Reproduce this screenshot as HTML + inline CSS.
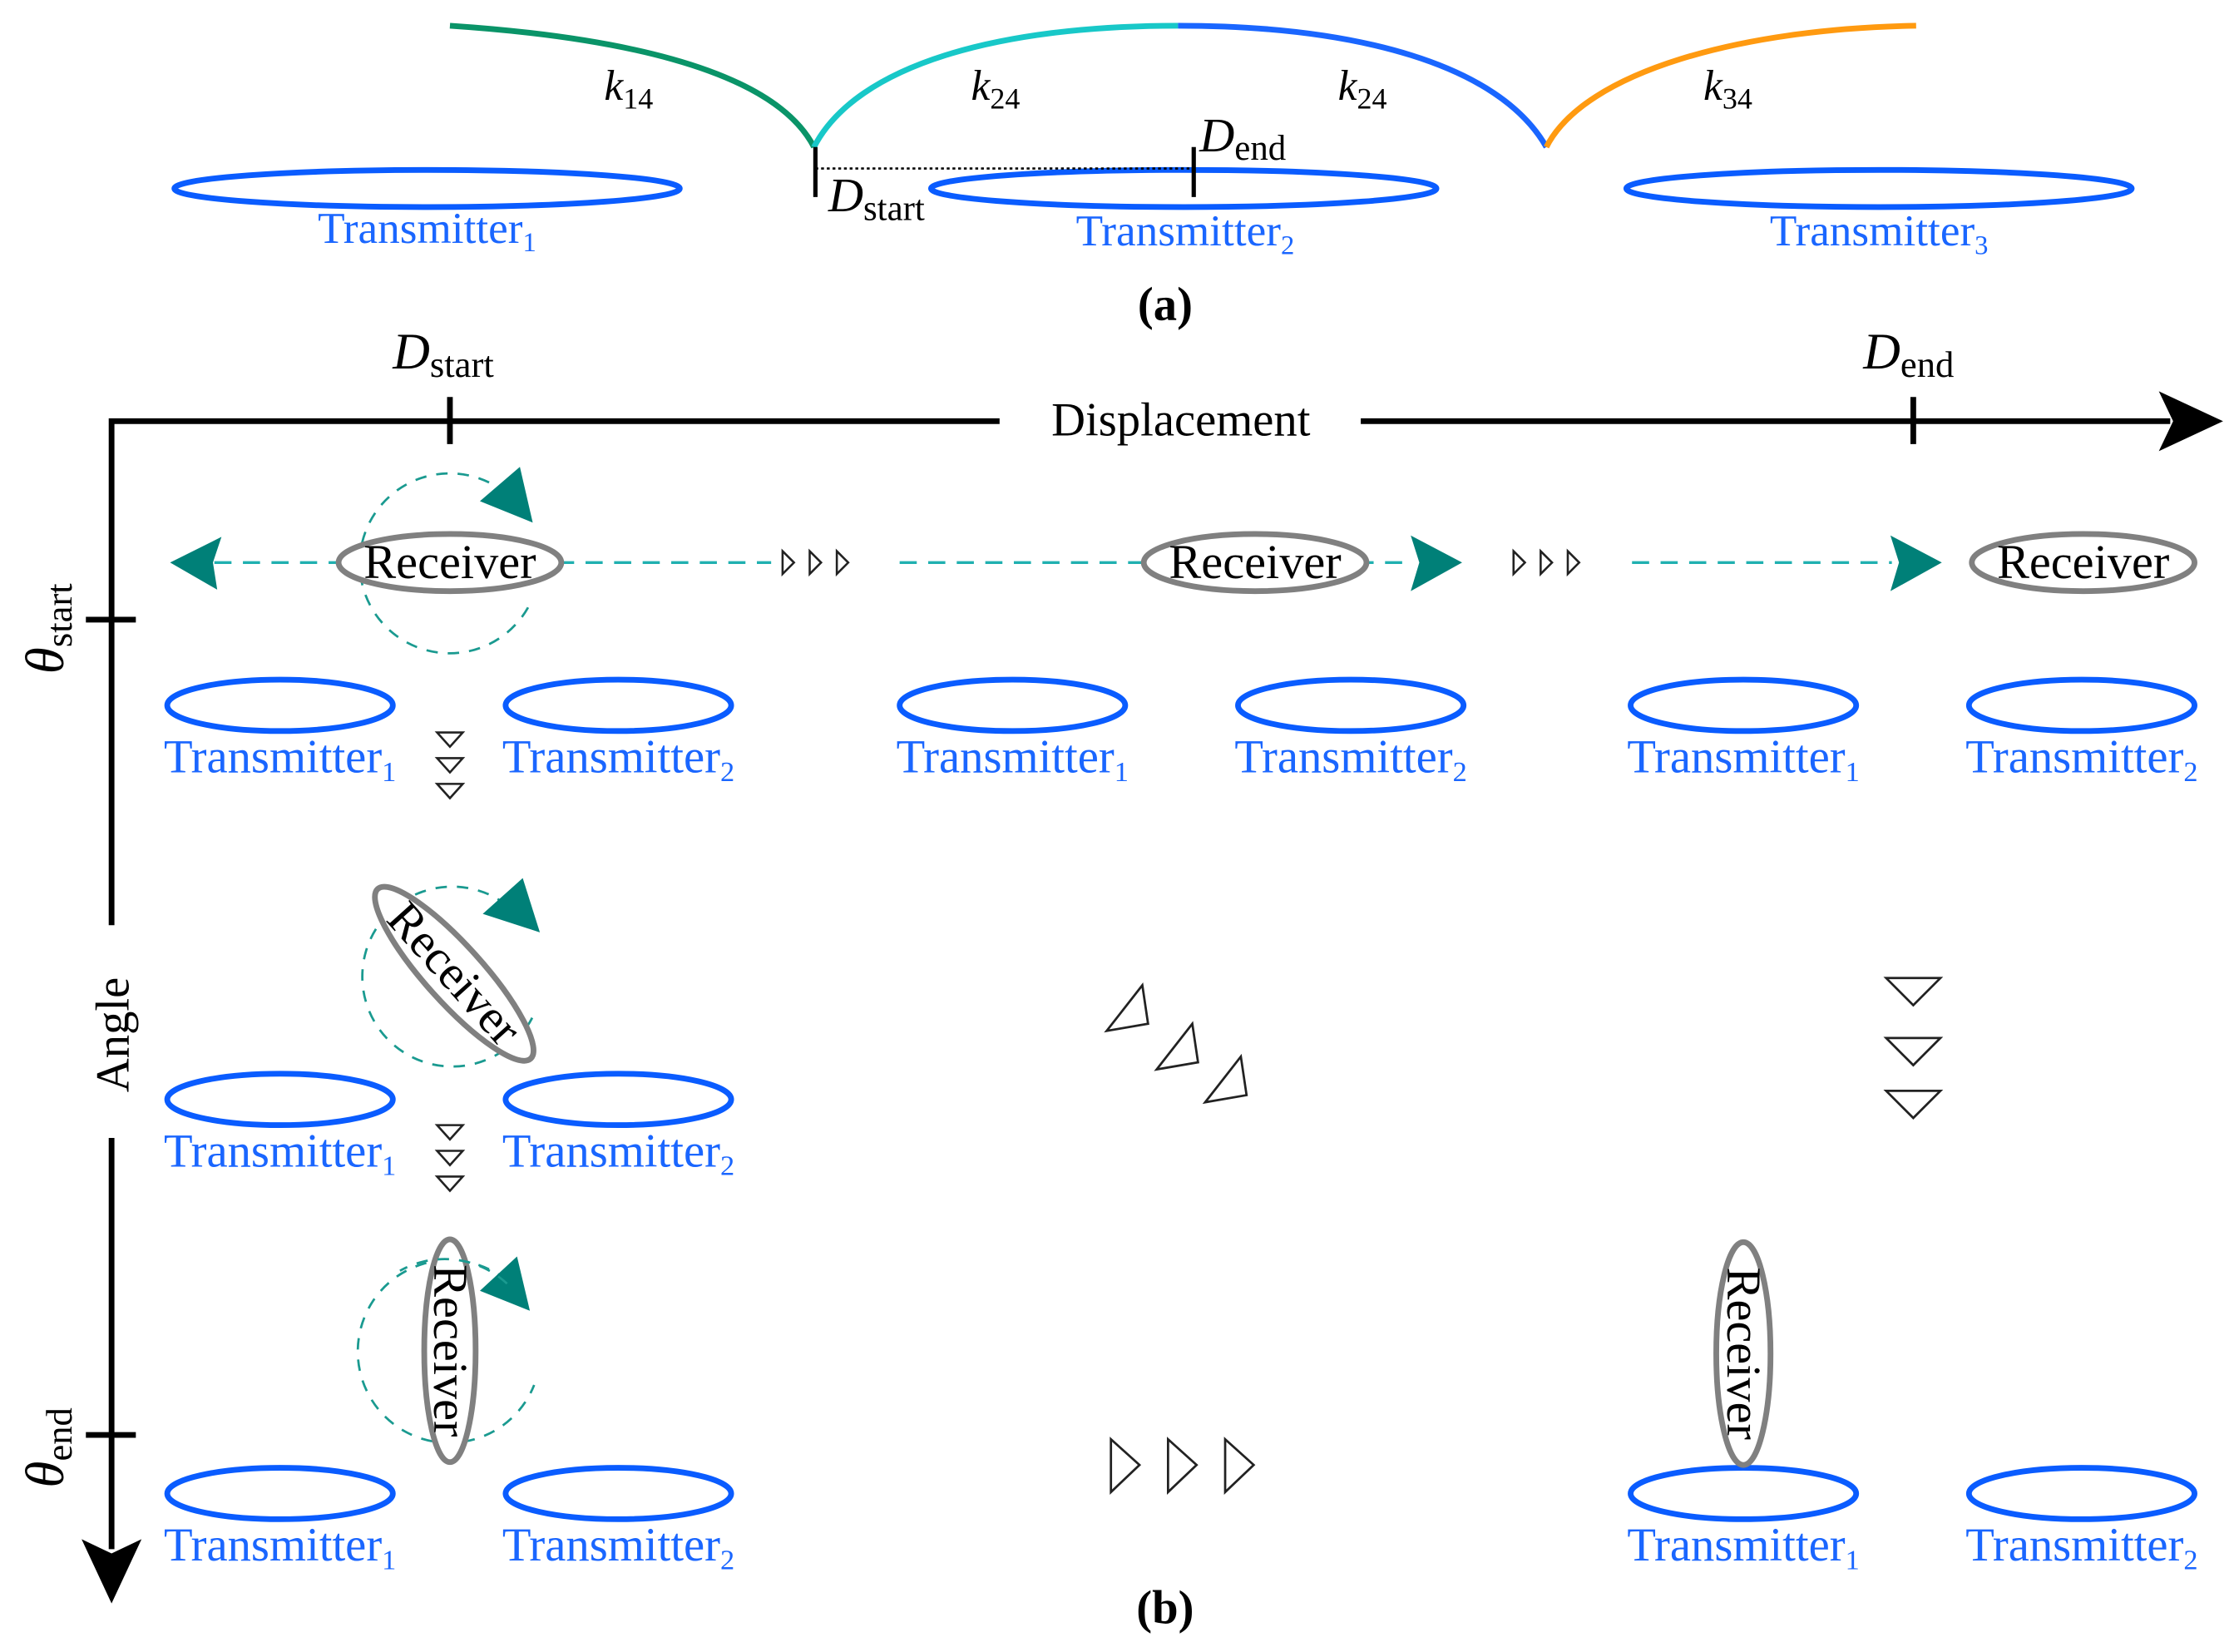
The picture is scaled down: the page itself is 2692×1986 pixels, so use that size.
<!DOCTYPE html>
<html><head><meta charset="utf-8"><style>html,body{margin:0;padding:0;background:#fff}svg{display:block}svg text{font-family:"Liberation Serif","DejaVu Serif",serif}</style></head>
<body>
<svg width="2692" height="1986" viewBox="0 0 1568 1157" xmlns="http://www.w3.org/2000/svg" style="font-family:'Liberation Serif',serif">
<defs>
<g id="down"><polygon points="-9,0 9,0 0,10" fill="none" stroke="#222" stroke-width="1.5"/></g>
<g id="rsm"><polygon points="0,-8 8,0 0,8" fill="none" stroke="#222" stroke-width="1.5"/></g>
</defs>
<rect width="1568" height="1157" fill="#fff"/>
<g fill="none" stroke-width="4">
<path d="M315,18 C420,25 540,45 570,103" stroke="#0a9468"/>
<path d="M570,103 C600,45 700,18 825,18" stroke="#18c8c8"/>
<path d="M825,18 C950,18 1050,45 1083,103" stroke="#1a66ff"/>
<path d="M1083,103 C1110,50 1220,20 1342,18" stroke="#ff9a10"/>
</g>
<g font-style="italic" font-size="30">
<text x="423" y="70">k<tspan font-style="normal" font-size="21" dy="6">14</tspan></text>
<text x="680" y="70">k<tspan font-style="normal" font-size="21" dy="6">24</tspan></text>
<text x="937" y="70">k<tspan font-style="normal" font-size="21" dy="6">24</tspan></text>
<text x="1193" y="70">k<tspan font-style="normal" font-size="21" dy="6">34</tspan></text>
</g>
<g fill="none" stroke="#0a5cff" stroke-width="4">
<ellipse cx="299" cy="132" rx="177" ry="13"/>
<ellipse cx="829" cy="132" rx="177" ry="13"/>
<ellipse cx="1316" cy="132" rx="177" ry="13"/>
</g>
<line x1="571" y1="103" x2="571" y2="138" stroke="#000" stroke-width="3"/>
<line x1="836" y1="103" x2="836" y2="138" stroke="#000" stroke-width="3"/>
<line x1="571" y1="118" x2="836" y2="118" stroke="#000" stroke-width="1.5" stroke-dasharray="2,2"/>
<text x="580" y="148" font-size="34" font-style="italic">D<tspan font-style="normal" font-size="25" dy="6">start</tspan></text>
<text x="840" y="106" font-size="34" font-style="italic">D<tspan font-style="normal" font-size="25" dy="6">end</tspan></text>
<g fill="#1a66ff" font-size="31" text-anchor="middle">
<text x="299" y="170">Transmitter<tspan font-size="19" dy="6">1</tspan></text>
<text x="830" y="172">Transmitter<tspan font-size="19" dy="6">2</tspan></text>
<text x="1316" y="172">Transmitter<tspan font-size="19" dy="6">3</tspan></text>
</g>
<text x="816" y="224" font-size="33" font-weight="bold" text-anchor="middle">(a)</text>

<g stroke="#000" stroke-width="4" fill="none">
<polyline points="78,648 78,295 700,295"/>
<line x1="953" y1="295" x2="1520" y2="295"/>
<line x1="78" y1="797" x2="78" y2="1085"/>
<line x1="315" y1="278" x2="315" y2="311"/>
<line x1="1340" y1="278" x2="1340" y2="311"/>
<line x1="60" y1="434" x2="95" y2="434"/>
<line x1="60" y1="1005" x2="95" y2="1005"/>
</g>
<polygon points="1512,274 1557,295 1512,316 1522,295" fill="#000"/>
<polygon points="57,1078 78,1123 99,1078 78,1088" fill="#000"/>
<text x="827" y="305" font-size="33" text-anchor="middle">Displacement</text>
<text x="275" y="258" font-size="36" font-style="italic">D<tspan font-style="normal" font-size="26" dy="6">start</tspan></text>
<text x="1305" y="258" font-size="36" font-style="italic">D<tspan font-style="normal" font-size="26" dy="6">end</tspan></text>
<text transform="translate(44,472) rotate(-90)" font-size="38" font-style="italic">θ<tspan font-style="normal" font-size="26" dy="6">start</tspan></text>
<text transform="translate(90,765) rotate(-90)" font-size="33">Angle</text>
<text transform="translate(44,1042) rotate(-90)" font-size="38" font-style="italic">θ<tspan font-style="normal" font-size="26" dy="6">end</tspan></text>

<g fill="none" stroke="#0a5cff" stroke-width="4">
<ellipse cx="196" cy="494" rx="79" ry="18"/><ellipse cx="433" cy="494" rx="79" ry="18"/>
<ellipse cx="709" cy="494" rx="79" ry="18"/><ellipse cx="946" cy="494" rx="79" ry="18"/>
<ellipse cx="1221" cy="494" rx="79" ry="18"/><ellipse cx="1458" cy="494" rx="79" ry="18"/>
<ellipse cx="196" cy="770" rx="79" ry="18"/><ellipse cx="433" cy="770" rx="79" ry="18"/>
<ellipse cx="196" cy="1046" rx="79" ry="18"/><ellipse cx="433" cy="1046" rx="79" ry="18"/>
<ellipse cx="1221" cy="1046" rx="79" ry="18"/><ellipse cx="1458" cy="1046" rx="79" ry="18"/>
</g>
<g fill="#1a66ff" font-size="33" text-anchor="middle">
<text x="196" y="541">Transmitter<tspan font-size="20" dy="6">1</tspan></text>
<text x="433" y="541">Transmitter<tspan font-size="20" dy="6">2</tspan></text>
<text x="709" y="541">Transmitter<tspan font-size="20" dy="6">1</tspan></text>
<text x="946" y="541">Transmitter<tspan font-size="20" dy="6">2</tspan></text>
<text x="1221" y="541">Transmitter<tspan font-size="20" dy="6">1</tspan></text>
<text x="1458" y="541">Transmitter<tspan font-size="20" dy="6">2</tspan></text>
<text x="196" y="817">Transmitter<tspan font-size="20" dy="6">1</tspan></text>
<text x="433" y="817">Transmitter<tspan font-size="20" dy="6">2</tspan></text>
<text x="196" y="1093">Transmitter<tspan font-size="20" dy="6">1</tspan></text>
<text x="433" y="1093">Transmitter<tspan font-size="20" dy="6">2</tspan></text>
<text x="1221" y="1093">Transmitter<tspan font-size="20" dy="6">1</tspan></text>
<text x="1458" y="1093">Transmitter<tspan font-size="20" dy="6">2</tspan></text>
</g>

<g stroke="#20b0b0" stroke-width="2" stroke-dasharray="12,8" fill="none">
<line x1="150" y1="394" x2="540" y2="394"/>
<line x1="630" y1="394" x2="990" y2="394"/>
<line x1="1143" y1="394" x2="1325" y2="394"/>
</g>
<g fill="#008078">
<polygon points="119,394 155,376 149,394 152,413"/>
<polygon points="1024,394 988,375 994,394 988,414"/>
<polygon points="1360,394 1324,375 1330,394 1324,414"/>
</g>
<g stroke="#1a9a90" stroke-width="1.6" stroke-dasharray="8,7" fill="none">
<path d="M355,346 A63,63 0 1 0 372,421"/>
<path d="M355,634 A63,63 0 1 0 374,710"/>
<path d="M355,897 A64,64 0 1 0 374,970"/>
</g>
<g fill="#008078">
<polygon points="336,351 364,327 373,366"/>
<polygon points="338,640 366,615 378,653"/>
<polygon points="336,904 362,880 371,918"/>
</g>
<g fill="#fff" stroke="#808080" stroke-width="4">
<ellipse cx="315" cy="394" rx="78" ry="20"/>
<ellipse cx="879" cy="394" rx="78" ry="20"/>
<ellipse cx="1459" cy="394" rx="78" ry="20"/>
<ellipse cx="318" cy="682" rx="80" ry="20" transform="rotate(48 318 682)"/>
<ellipse cx="315" cy="946" rx="18" ry="78"/>
<ellipse cx="1221" cy="948" rx="19" ry="78"/>
</g>
<g font-size="34" text-anchor="middle">
<text x="315" y="405">Receiver</text>
<text x="879" y="405">Receiver</text>
<text x="1459" y="405">Receiver</text>
<text transform="translate(318,682) rotate(48)" y="11">Receiver</text>
<text transform="translate(315,946) rotate(90)" y="11">Receiver</text>
<text transform="translate(1221,948) rotate(90)" y="11">Receiver</text>
</g>
<path d="M355,899 A64,64 0 0 0 280,890" stroke="#1a9a90" stroke-width="1.6" stroke-dasharray="8,7" fill="none"/>
<use href="#rsm" x="548" y="394"/><use href="#rsm" x="567" y="394"/><use href="#rsm" x="586" y="394"/>
<use href="#rsm" x="1060" y="394"/><use href="#rsm" x="1079" y="394"/><use href="#rsm" x="1098" y="394"/>
<use href="#down" x="315" y="513"/><use href="#down" x="315" y="531"/><use href="#down" x="315" y="549"/>
<use href="#down" x="315" y="788"/><use href="#down" x="315" y="806"/><use href="#down" x="315" y="824"/>
<g fill="none" stroke="#222" stroke-width="1.6">
<polygon points="775,722 800,690 804,717"/>
<polygon points="810,749 835,717 839,744"/>
<polygon points="844,772 869,740 873,767"/>
<polygon points="1321,685 1359,685 1340,704"/>
<polygon points="1321,727 1359,727 1340,746"/>
<polygon points="1321,764 1359,764 1340,783"/>
<polygon points="778,1008 798,1026 778,1045"/>
<polygon points="818,1008 838,1026 818,1045"/>
<polygon points="858,1008 878,1026 858,1045"/>
</g>
<text x="816" y="1137" font-size="33" font-weight="bold" text-anchor="middle">(b)</text>
</svg>
</body></html>
